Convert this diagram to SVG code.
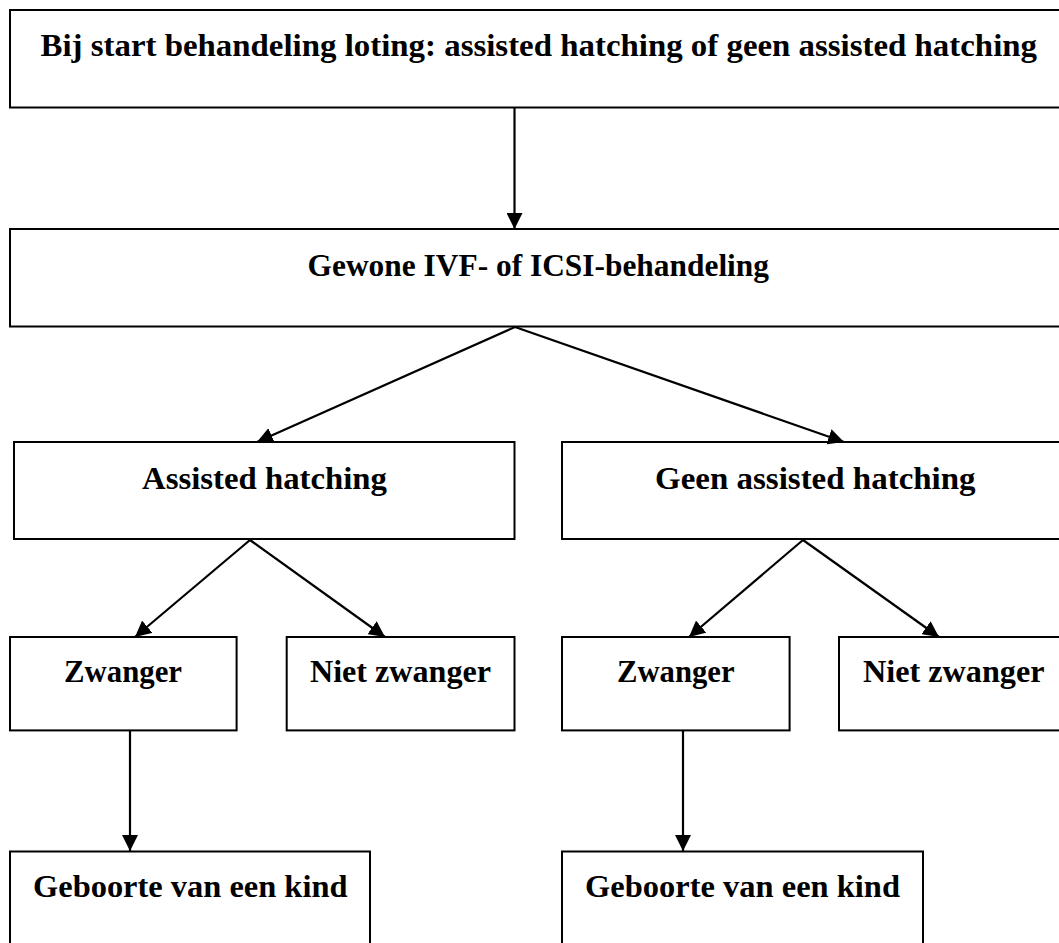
<svg xmlns="http://www.w3.org/2000/svg" width="1059" height="943" viewBox="0 0 1059 943">
<style>
.box{fill:#fff;stroke:#000;stroke-width:2}
.lbl{font-family:"Liberation Serif","DejaVu Serif",serif;font-weight:bold;font-size:31px;fill:#000}
.con{stroke:#000;stroke-width:2.2;fill:none;marker-end:url(#ah)}
</style>
<defs>
<marker id="ah" viewBox="0 0 16 16" refX="16" refY="8" markerUnits="userSpaceOnUse" markerWidth="16" markerHeight="16" orient="auto">
<path d="M0,0 L16,8 L0,16 z" fill="#000"/>
</marker>
</defs>
<rect width="1059" height="943" fill="#fff"/>
<g id="n1"><rect class="box" x="10" y="10" width="1060" height="97.5"/><text class="lbl" x="40.5" y="56" textLength="996.5" lengthAdjust="spacingAndGlyphs">Bij start behandeling loting: assisted hatching of geen assisted hatching</text></g>
<g id="n2"><rect class="box" x="10" y="229" width="1060" height="97.5"/><text class="lbl" x="307.6" y="275.5" textLength="461.4" lengthAdjust="spacingAndGlyphs">Gewone IVF- of ICSI-behandeling</text></g>
<g id="n3"><rect class="box" x="14" y="442" width="500.5" height="97"/><text class="lbl" x="142" y="488.6" textLength="245" lengthAdjust="spacingAndGlyphs">Assisted hatching</text></g>
<g id="n4"><rect class="box" x="562" y="442" width="510" height="97"/><text class="lbl" x="655" y="488.6" textLength="320.6" lengthAdjust="spacingAndGlyphs">Geen assisted hatching</text></g>
<g id="n5"><rect class="box" x="10" y="637" width="226.6" height="93.4"/><text class="lbl" x="64" y="682" textLength="118" lengthAdjust="spacingAndGlyphs">Zwanger</text></g>
<g id="n6"><rect class="box" x="286.7" y="637" width="227.8" height="93.4"/><text class="lbl" x="310" y="682" textLength="181" lengthAdjust="spacingAndGlyphs">Niet zwanger</text></g>
<g id="n7"><rect class="box" x="562" y="637" width="227.6" height="93.4"/><text class="lbl" x="617" y="682" textLength="117.5" lengthAdjust="spacingAndGlyphs">Zwanger</text></g>
<g id="n8"><rect class="box" x="839" y="637" width="230" height="93.4"/><text class="lbl" x="863" y="682" textLength="181.5" lengthAdjust="spacingAndGlyphs">Niet zwanger</text></g>
<g id="n9"><rect class="box" x="10" y="851.5" width="360" height="110"/><text class="lbl" x="33" y="897" textLength="314.5" lengthAdjust="spacingAndGlyphs">Geboorte van een kind</text></g>
<g id="n10"><rect class="box" x="562" y="851.5" width="361" height="110"/><text class="lbl" x="585" y="897" textLength="315" lengthAdjust="spacingAndGlyphs">Geboorte van een kind</text></g>
<g id="connectors">
<line class="con" x1="514.5" y1="108" x2="514.5" y2="229"/>
<line class="con" x1="515" y1="327" x2="257" y2="442"/>
<line class="con" x1="515" y1="327" x2="844" y2="442"/>
<line class="con" x1="250" y1="540" x2="135" y2="637"/>
<line class="con" x1="250" y1="540" x2="385" y2="637"/>
<line class="con" x1="803" y1="540" x2="689" y2="637"/>
<line class="con" x1="803" y1="540" x2="939" y2="637"/>
<line class="con" x1="130" y1="731" x2="130" y2="851"/>
<line class="con" x1="683" y1="731" x2="683" y2="851"/>
</g>
</svg>
